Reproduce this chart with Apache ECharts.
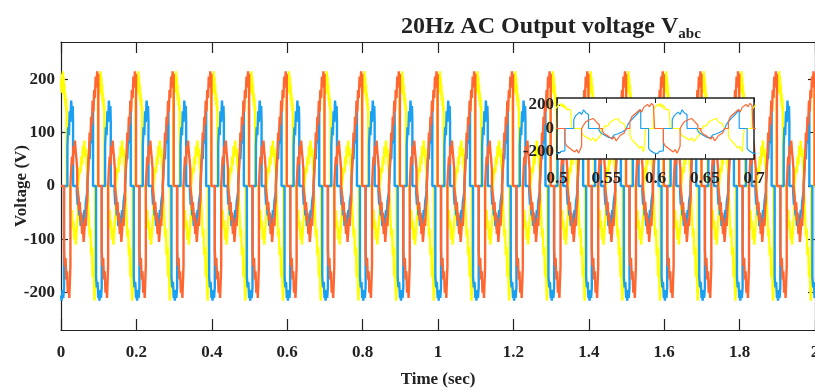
<!DOCTYPE html>
<html>
<head>
<meta charset="utf-8">
<script src="https://cdn.jsdelivr.net/npm/echarts@6/dist/echarts.min.js"></script>
<style>
html,body{margin:0;padding:0;background:#fff;}
#c{width:815px;height:390px;}
</style>
</head>
<body>
<div id="c"></div>
<script>
// One period (100 ms) of each phase: [time in ms within period, volts]
var periodMs = 100;
var periodCount = 20;
var yellowCycle = [[0,185],[1,200],[2,175],[3,210],[4,190],[5,215],[6,180],[7,205],[8,170],[9,190],[10,160],[11,175],[12,150],[13,165],[14,140],[15,150],[15,0],[25,0],[25,-35],[27,-60],[29,-45],[31,-80],[33,-65],[35,-100],[37,-80],[39,-110],[41,-90],[43,-70],[45,-50],[45,0],[48,0],[48,20],[50,35],[52,25],[54,55],[56,40],[58,75],[60,60],[62,85],[64,55],[66,70],[68,40],[70,25],[70,0],[74,0],[74,-60],[76,-95],[78,-80],[80,-130],[82,-115],[84,-170],[86,-150],[88,-200],[89,-215],[90,-195],[90,0],[98,0],[98,160],[100,185]];
var orangeCycle = [[0,0],[8,0],[8,-120],[10,-150],[12,-135],[14,-175],[16,-160],[18,-200],[20,-180],[22,-210],[24,-170],[25,-150],[25,0],[27,0],[27,30],[29,55],[31,40],[33,75],[35,60],[37,85],[39,65],[41,50],[43,30],[43,0],[46,0],[46,-20],[48,-45],[50,-30],[52,-65],[54,-50],[56,-90],[58,-70],[60,-105],[62,-85],[64,-60],[66,-75],[68,-40],[70,-25],[70,0],[74,0],[74,60],[76,100],[78,85],[80,130],[82,115],[84,160],[86,140],[88,180],[90,165],[92,205],[94,185],[96,215],[98,195],[99,210],[99,0],[100,0]];
var blueCycle = [[0,-205],[2,-215],[4,-195],[6,-210],[8,-190],[8,0],[17,0],[17,75],[19,110],[21,95],[23,140],[25,120],[27,160],[29,135],[31,150],[32,120],[32,0],[42,0],[42,-10],[44,-35],[46,-20],[48,-55],[50,-40],[52,-75],[54,-60],[56,-80],[58,-55],[60,-70],[62,-45],[64,-55],[66,-30],[68,-20],[70,-10],[70,0],[72,0],[72,35],[74,60],[76,50],[78,95],[80,80],[82,130],[84,115],[85,160],[85,0],[93,0],[93,-170],[95,-190],[97,-180],[99,-210],[100,-205]];
var xTicks = [0,0.2,0.4,0.6,0.8,1,1.2,1.4,1.6,1.8,2];
var yTicks = [-200,-100,0,100,200];
var insetXTicks = [0.5,0.55,0.6,0.65,0.7];
var insetYTicks = [-200,0,200];

function repeatCycle(cycle){
  var out = [];
  for (var p = 0; p < periodCount; p++) {
    for (var i = 0; i < cycle.length; i++) {
      out.push([(p*periodMs + cycle[i][0])/1000, cycle[i][1]]);
    }
  }
  return out;
}
var yellowData = repeatCycle(yellowCycle);
var orangeData = repeatCycle(orangeCycle);
var blueData = repeatCycle(blueCycle);

var FONT = '"Liberation Serif","Times New Roman",serif';
var AX = '#222';
var colY = '#FFFF00', colO = '#FF6630', colB = '#1AA0F0';

var chart = echarts.init(document.getElementById('c'), null, {renderer:'canvas'});
function lbl(v){ return String(Math.round(v*100)/100); }

var option = {
  animation:false,
  backgroundColor:'#fff',
  title:{
    text:'{m|20Hz AC Output voltage V}{s|abc}',
    left:396, top:6,
    textStyle:{rich:{
      m:{fontFamily:FONT,fontWeight:'bold',fontSize:24,color:'#222',lineHeight:31},
      s:{fontFamily:FONT,fontWeight:'bold',fontSize:15,color:'#222',lineHeight:21,verticalAlign:'bottom'}
    }}
  },
  grid:[
    {left:61, top:42, width:754, height:288, show:false, containLabel:false, outerBoundsMode:'none'},
    {left:557, top:98, width:197, height:61, show:true, backgroundColor:'#fff', borderWidth:0, z:10, containLabel:false, outerBoundsMode:'none'}
  ],
  xAxis:[
    {gridIndex:0,type:'value',min:0,max:2,interval:0.2,position:'bottom',
     axisLine:{show:true,onZero:false,lineStyle:{color:AX,width:1.2}},
     axisTick:{show:true,inside:true,length:11,lineStyle:{color:AX,width:1.2}},
     axisLabel:{show:true,margin:14,fontFamily:FONT,fontWeight:'bold',fontSize:17,color:'#222',formatter:lbl,showMaxLabel:true,hideOverlap:false},
     splitLine:{show:false},
     name:'Time (sec)',nameLocation:'middle',nameGap:41,nameMoveOverlap:false,
     nameTextStyle:{fontFamily:FONT,fontWeight:'bold',fontSize:17,color:'#222'}},
    {gridIndex:0,type:'value',min:0,max:2,interval:0.2,position:'top',
     axisLine:{show:true,onZero:false,lineStyle:{color:AX,width:1.2}},
     axisTick:{show:true,inside:true,length:11,lineStyle:{color:AX,width:1.2}},
     axisLabel:{show:false},splitLine:{show:false}},
    {gridIndex:1,type:'value',min:0.5,max:0.7,interval:0.05,position:'bottom',
     axisLine:{show:true,onZero:false,lineStyle:{color:AX,width:1.5}},
     axisTick:{show:true,inside:true,length:5,lineStyle:{color:AX,width:1}},
     axisLabel:{show:true,margin:11,fontFamily:FONT,fontWeight:'bold',fontSize:17,color:'#222',formatter:lbl,showMinLabel:true,showMaxLabel:true,hideOverlap:false},
     splitLine:{show:false},z:11},
    {gridIndex:1,type:'value',min:0.5,max:0.7,interval:0.05,position:'top',
     axisLine:{show:true,onZero:false,lineStyle:{color:AX,width:1.5}},
     axisTick:{show:true,inside:true,length:5,lineStyle:{color:AX,width:1}},
     axisLabel:{show:false},splitLine:{show:false},z:11}
  ],
  yAxis:[
    {gridIndex:0,type:'value',min:-270,max:270,position:'left',
     axisLine:{show:true,onZero:false,lineStyle:{color:AX,width:1.2}},
     axisTick:{show:true,inside:true,length:7,customValues:yTicks,lineStyle:{color:AX,width:1.2}},
     axisLabel:{show:true,margin:6,customValues:yTicks,fontFamily:FONT,fontWeight:'bold',fontSize:17,color:'#222'},
     splitLine:{show:false},
     name:'Voltage (V)',nameLocation:'middle',nameGap:31,nameMoveOverlap:false,
     nameTextStyle:{fontFamily:FONT,fontWeight:'bold',fontSize:17,color:'#222'}},
    {gridIndex:0,type:'value',min:-270,max:270,position:'right',
     axisLine:{show:true,onZero:false,lineStyle:{color:AX,width:1.2}},
     axisTick:{show:true,inside:true,length:7,customValues:yTicks,lineStyle:{color:AX,width:1.2}},
     axisLabel:{show:false},splitLine:{show:false}},
    {gridIndex:1,type:'value',min:-260,max:260,position:'left',
     axisLine:{show:true,onZero:false,lineStyle:{color:AX,width:1.5}},
     axisTick:{show:true,inside:true,length:4,customValues:insetYTicks,lineStyle:{color:AX,width:1}},
     axisLabel:{show:true,margin:3,customValues:insetYTicks,fontFamily:FONT,fontWeight:'bold',fontSize:17,color:'#222'},
     splitLine:{show:false},z:11},
    {gridIndex:1,type:'value',min:-260,max:260,position:'right',
     axisLine:{show:true,onZero:false,lineStyle:{color:AX,width:1.5}},
     axisTick:{show:false},axisLabel:{show:false},splitLine:{show:false},z:11}
  ],
  series:[
    {type:'line',xAxisIndex:0,yAxisIndex:0,data:yellowData,showSymbol:false,lineStyle:{color:colY,width:2.4},z:2},
    {type:'line',xAxisIndex:0,yAxisIndex:0,data:blueData,showSymbol:false,lineStyle:{color:colB,width:2.4},z:3},
    {type:'line',xAxisIndex:0,yAxisIndex:0,data:orangeData,showSymbol:false,lineStyle:{color:colO,width:2.4},z:4},
    {type:'line',xAxisIndex:2,yAxisIndex:2,data:yellowData,showSymbol:false,clip:true,lineStyle:{color:colY,width:1.2},z:12},
    {type:'line',xAxisIndex:2,yAxisIndex:2,data:blueData,showSymbol:false,clip:true,lineStyle:{color:colB,width:1.2},z:13},
    {type:'line',xAxisIndex:2,yAxisIndex:2,data:orangeData,showSymbol:false,clip:true,lineStyle:{color:colO,width:1.2},z:14}
  ]
};
chart.setOption(option);
</script>
</body>
</html>
